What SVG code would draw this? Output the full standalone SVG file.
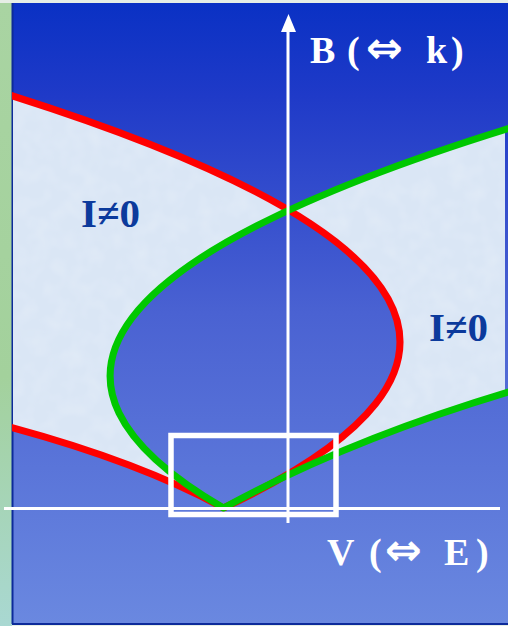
<svg xmlns="http://www.w3.org/2000/svg" width="508" height="626" viewBox="0 0 508 626">
  <defs>
    <linearGradient id="bg" x1="0" y1="0" x2="0" y2="1">
      <stop offset="0" stop-color="#0a31c4"/>
      <stop offset="0.15" stop-color="#1f3ac8"/>
      <stop offset="0.5" stop-color="#4a62d2"/>
      <stop offset="1" stop-color="#6a88e0"/>
    </linearGradient>
    <linearGradient id="strip" x1="0" y1="0" x2="0" y2="1">
      <stop offset="0" stop-color="#a9d4a2"/>
      <stop offset="0.6" stop-color="#a3d19c"/>
      <stop offset="1" stop-color="#a9d8d2"/>
    </linearGradient>
    <clipPath id="panel">
      <rect x="13" y="3" width="492" height="620"/>
    </clipPath>
    <clipPath id="curveclip">
      <rect x="12" y="0" width="500" height="626"/>
    </clipPath>
    <filter id="tex" x="0" y="0" width="1" height="1">
      <feTurbulence type="fractalNoise" baseFrequency="0.06" numOctaves="2" seed="3" result="n"/>
      <feColorMatrix in="n" type="matrix" values="0 0 0 0 0.80  0 0 0 0 0.86  0 0 0 0 0.95  0 0 0 0.9 -0.35" result="c"/>
      <feComposite in="c" in2="SourceGraphic" operator="in" result="t"/>
      <feMerge><feMergeNode in="SourceGraphic"/><feMergeNode in="t"/></feMerge>
    </filter>
    <style>
      .curve { fill: none; stroke-width: 7; stroke-linejoin: miter; stroke-miterlimit: 10; }
      .axis { stroke: #ffffff; stroke-width: 3; fill: none; }
      .axlabel { font-family: "Liberation Serif", "DejaVu Serif", serif; font-weight: bold; font-size: 38px; fill: #ffffff; }
      .arr { font-family: "DejaVu Sans", sans-serif; font-weight: bold; }
      .ilabel { font-family: "Liberation Serif", serif; font-weight: bold; font-size: 41px; fill: #0b3a9c; }
    </style>
  </defs>

  <!-- background -->
  <rect x="0" y="0" width="508" height="626" fill="#e6eee6"/>
  <rect x="0" y="3" width="12" height="623" fill="url(#strip)"/>
  <rect x="12" y="3" width="496" height="620" fill="url(#bg)"/>
  <line x1="12.5" y1="3" x2="12.5" y2="624" stroke="#0c2a9a" stroke-width="2"/>
  <line x1="12" y1="624" x2="508" y2="624" stroke="#0c2a9a" stroke-width="2"/>

  <!-- light regions (XOR of the two curve interiors) -->
  <g id="regions" clip-path="url(#panel)">
    <path fill="#dae6f5" fill-rule="evenodd" filter="url(#tex)"
      d="M -6.4,90 Q 667.8,299 223.5,508 Q 137,460.6 0,424.5 Z
         M 509.8,128 Q -102.8,318 223.5,508 Q 346,440.6 512,391 Z"/>
  </g>

  <!-- curves -->
  <g id="curves" clip-path="url(#curveclip)">
    <path id="red" class="curve" stroke="#ff0000" d="M -6.4,90 Q 667.8,299 223.5,508 Q 137,460.6 0,424.5"/>
    <path id="green" class="curve" stroke="#00c800" d="M 509.8,128 Q -102.8,318 223.5,508 Q 346,440.6 512,391"/>
  </g>

  <!-- axes -->
  <g id="axes">
    <line class="axis" x1="288" y1="28" x2="288" y2="523"/>
    <polygon points="288.5,14 281,32 296,32" fill="#ffffff"/>
    <line class="axis" x1="4" y1="508.5" x2="500" y2="508.5"/>
  </g>

  <!-- zoom box -->
  <g id="box">
    <rect x="171" y="435.5" width="165" height="79" fill="none" stroke="#ffffff" stroke-width="5.5"/>
  </g>

  <!-- labels -->
  <g id="labelB">
    <text class="axlabel" y="63"><tspan x="310">B</tspan><tspan x="347">(</tspan><tspan class="arr" x="366" font-size="44">⇔</tspan><tspan x="426">k</tspan><tspan x="451">)</tspan></text>
  </g>
  <g id="labelV">
    <text class="axlabel" y="565"><tspan x="327">V</tspan><tspan x="369">(</tspan><tspan class="arr" x="385" font-size="44">⇔</tspan><tspan x="444">E</tspan><tspan x="476">)</tspan></text>
  </g>
  <g id="labelLeft">
    <text class="ilabel" x="81" y="227">I≠0</text>
  </g>
  <g id="labelRight">
    <text class="ilabel" x="429" y="341">I≠0</text>
  </g>
</svg>
